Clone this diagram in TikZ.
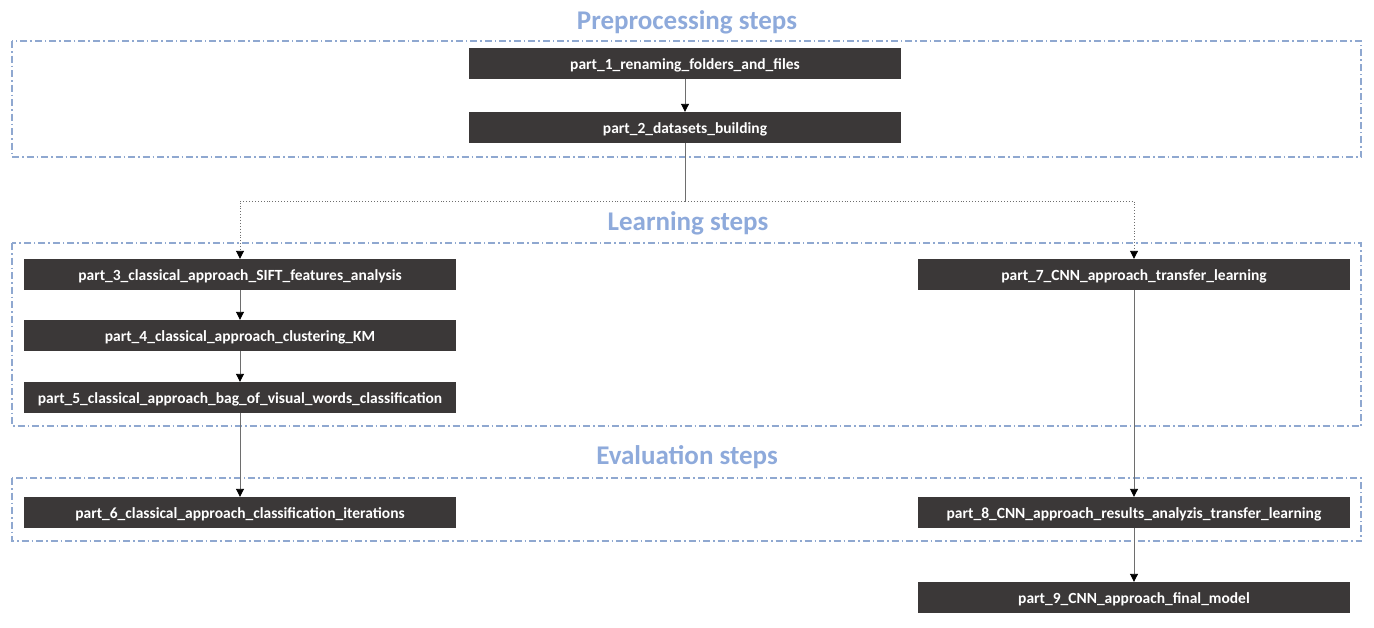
\documentclass[tikz,border=0pt]{standalone}
\usepackage{fontspec}
\setmainfont{Carlito}
\usetikzlibrary{arrows.meta}
\definecolor{boxfill}{RGB}{59,56,56}
\definecolor{titleblue}{RGB}{142,170,219}
\definecolor{framecol}{RGB}{143,168,208}
\definecolor{linegrey}{RGB}{110,110,110}
\tikzset{
  stepbox/.style={fill=boxfill, draw=none, minimum width=432pt, minimum height=31pt, inner sep=0pt,
    text=white, font=\fontsize{15.5}{18}\selectfont\bfseries, text height=12pt, text depth=1pt},
  frame/.style={draw=framecol, line width=1.3pt, dash pattern=on 7pt off 3pt on 1.5pt off 3pt},
  title/.style={text=titleblue, font=\fontsize{27}{30}\selectfont\bfseries, inner sep=0pt},
  conn/.style={draw=linegrey, line width=0.9pt, -{Triangle[width=8pt,length=8pt,color=black]}},
  dconn/.style={draw=linegrey, line width=0.9pt, dotted, -{Triangle[width=8pt,length=8pt,color=black]}},
}
\begin{document}
\begin{tikzpicture}[x=1pt,y=-1pt]
\useasboundingbox (0,0) rectangle (1374,627);
% frames
\draw[frame] (12,41) rectangle (1361,157);
\draw[frame] (12,243) rectangle (1361,426);
\draw[frame] (12,478) rectangle (1361,541);
% titles
\node[title] (t1) at (687,22) {Preprocessing steps};
\node[title] (t2) at (688,223) {Learning steps};
\node[title] (t3) at (687,457) {Evaluation steps};
% boxes
\node[stepbox] (p1) at (685,63.5) {part\_1\_renaming\_folders\_and\_files};
\node[stepbox] (p2) at (685,127.5) {part\_2\_datasets\_building};
\node[stepbox] (p3) at (240,274.5) {part\_3\_classical\_approach\_SIFT\_features\_analysis};
\node[stepbox] (p4) at (240,335.5) {part\_4\_classical\_approach\_clustering\_KM};
\node[stepbox] (p5) at (240,397.5) {part\_5\_classical\_approach\_bag\_of\_visual\_words\_classification};
\node[stepbox] (p6) at (240,512.5) {part\_6\_classical\_approach\_classification\_iterations};
\node[stepbox] (p7) at (1134,274.5) {part\_7\_CNN\_approach\_transfer\_learning};
\node[stepbox] (p8) at (1134,512.5) {part\_8\_CNN\_approach\_results\_analyzis\_transfer\_learning};
\node[stepbox] (p9) at (1134,597.5) {part\_9\_CNN\_approach\_final\_model};
% connectors
\draw[conn] (p1) -- (p2);
\coordinate (split) at (685,201);
\draw[draw=linegrey, line width=0.9pt] (p2.south) -- (split);
\draw[dconn] (split) -| (p3.north);
\draw[dconn] (split) -| (p7.north);
\draw[conn] (p3) -- (p4);
\draw[conn] (p4) -- (p5);
\draw[conn] (p5) -- (p6);
\draw[conn] (p7) -- (p8);
\draw[conn] (p8) -- (p9);
\end{tikzpicture}
\end{document}
